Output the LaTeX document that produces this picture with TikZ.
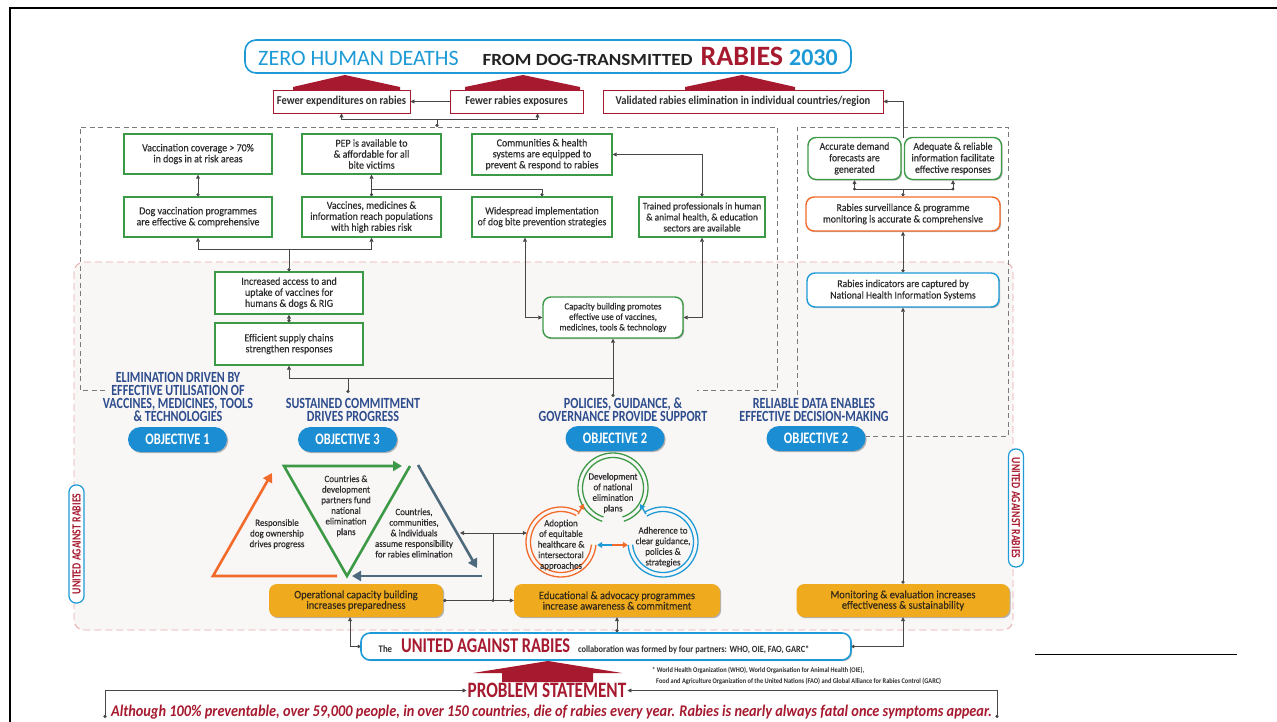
\documentclass[tikz,border=0pt]{standalone}
\usepackage{fontspec}
\setmainfont{Carlito}
\newfontfamily\cnd{Carlito}[FakeStretch=0.78]
\newfontfamily\mcnd{Carlito}[FakeStretch=0.88]
\newfontfamily\gfnt{Carlito}[FakeStretch=0.93,FakeBold=0.35]
\newfontfamily\wfnt{Carlito}[FakeStretch=1.12]
\usetikzlibrary{arrows.meta,shadows,calc}
\definecolor{crim}{HTML}{A6192E}
\definecolor{tblue}{HTML}{1E9BD7}
\definecolor{pillblue}{HTML}{1A8DD3}
\definecolor{gboxc}{HTML}{3C9A47}
\definecolor{oboxc}{HTML}{F26B2A}
\definecolor{amber}{HTML}{EFAB1D}
\definecolor{navy}{HTML}{2D4D8D}
\definecolor{pinkd}{HTML}{E9AAAA}
\definecolor{bgpink}{HTML}{F9F6F6}
\definecolor{grayd}{HTML}{7A7A7A}
\definecolor{connc}{HTML}{474747}
\definecolor{slate}{HTML}{4E6B7E}
\definecolor{txt}{HTML}{2E2E2E}
\definecolor{ytxt}{HTML}{33291A}
\definecolor{dark}{HTML}{222222}
\tikzset{
  myT/.tip={Triangle[length=4pt,width=4pt]},
  myC/.tip={Circle[length=3.2pt]},
  shd/.style={drop shadow={shadow xshift=1.2pt,shadow yshift=-1.2pt,opacity=0.28,fill=black}},
  conn/.style={draw=connc,line width=0.75pt},
  redbox/.style={draw=crim,line width=0.9pt,fill=white,shd,inner sep=0pt,text=txt,font=\mcnd\bfseries\fontsize{12}{12}\selectfont},
  gbox/.style={draw=gboxc,line width=1.4pt,fill=white,shd,inner sep=0pt,align=center,text=txt,font=\gfnt\fontsize{10.7}{11}\selectfont},
  rbox/.style={gbox,rounded corners=8pt,font=\gfnt\fontsize{10.5}{11.5}\selectfont},
  ybox/.style={fill=amber,rounded corners=8pt,shd,inner sep=0pt,align=center,text=ytxt,font=\gfnt\fontsize{11.2}{10.5}\selectfont},
  pill/.style={fill=pillblue,rounded corners=12.5pt,shd,inner sep=0pt,minimum width=99pt,minimum height=25pt,text=white,font=\cnd\bfseries\fontsize{16}{16}\selectfont},
  head/.style={align=center,text=navy,inner sep=0pt,font=\cnd\bfseries\fontsize{15.5}{13}\selectfont},
  ttext/.style={align=center,text=txt,inner sep=0pt,font=\gfnt\fontsize{9.6}{10.6}\selectfont},
  ringline/.style={line width=1.3pt},
  bigarr/.style={line width=2.6pt,line join=miter,-{Triangle[length=9pt,width=10pt]}},
  smallarr/.style={line width=1.4pt,-{Triangle[length=5pt,width=6pt]}},
  uarlab/.style={draw=tblue,line width=1.2pt,rounded corners=7pt,fill=white,minimum width=118pt,minimum height=15pt,inner sep=0pt,text=crim,font=\cnd\bfseries\fontsize{12.5}{12.5}\selectfont},
}
\begin{document}
\begin{tikzpicture}[x=1pt,y=-1pt]
\useasboundingbox (0,0) rectangle (1277,722);
\fill[white] (0,0) rectangle (1277,722);
% regions
\draw[pinkd,line width=0.9pt,dash pattern=on 7pt off 4pt,fill=bgpink,rounded corners=10pt] (74,262) rectangle (1013,630);
\draw[grayd,line width=0.9pt,dash pattern=on 5pt off 3.5pt] (105,390) -- (80,390) -- (80,127) -- (777,127) -- (777,390) -- (697,390);
\draw[grayd,line width=0.9pt,dash pattern=on 5pt off 3.5pt] (797,395) -- (797,127) -- (1008,127) -- (1008,436) -- (866,436);
% frame
\draw[black,line width=1.6pt] (10,722) -- (10,8) -- (1277,8);
\draw[black,line width=0.8pt] (1035,654) -- (1237,654);

% title
\node[draw=tblue,line width=1.6pt,rounded corners=11pt,minimum width=606pt,minimum height=33pt,inner sep=0pt,fill=white] (title) at (548,56.5) {{\fontsize{22}{22}\selectfont\color{tblue}ZERO HUMAN DEATHS}\hspace{24pt}{\wfnt\bfseries\fontsize{17}{17}\selectfont\color{dark}FROM DOG-TRANSMITTED}\hspace{8pt}{\bfseries\fontsize{28}{28}\selectfont\color{crim}RABIES}\hspace{6pt}{\bfseries\fontsize{24}{24}\selectfont\color{tblue}2030}};

% chevrons (block arrows behind the outcome boxes)
\fill[crim] (293,93) -- (293,87) -- (345,75) -- (400,87) -- (400,93) -- cycle;
\fill[crim] (465,93) -- (465,87) -- (523,75) -- (580,87) -- (580,93) -- cycle;
\fill[crim] (685,93) -- (685,87) -- (742,75) -- (795,87) -- (795,93) -- cycle;

% top outcome boxes
\node[redbox,minimum width=137pt,minimum height=23pt] (exp) at (341.5,101.5) {Fewer expenditures on rabies};
\node[redbox,minimum width=133pt,minimum height=23pt] (expo) at (516.5,101.5) {Fewer rabies exposures};
\node[redbox,minimum width=280pt,minimum height=23pt] (valid) at (743,101.5) {Validated rabies elimination in individual countries/region};

% left green boxes
\node[gbox,minimum width=148pt,minimum height=40pt] (vcov) at (198,154) {Vaccination coverage > 70\%\\in dogs in at risk areas};
\node[gbox,minimum width=139pt,minimum height=40pt] (pep) at (371.5,154) {PEP is available to\\\& affordable for all\\bite victims};
\node[gbox,minimum width=140pt,minimum height=41pt] (comm) at (542,154.5) {Communities \& health\\systems are equipped to\\prevent \& respond to rabies};
\node[gbox,minimum width=148pt,minimum height=40pt] (dogv) at (198,217) {Dog vaccination programmes\\are effective \& comprehensive};
\node[gbox,minimum width=139pt,minimum height=40pt] (vmed) at (371.5,217) {Vaccines, medicines \&\\information reach populations\\with high rabies risk};
\node[gbox,font=\gfnt\fontsize{10.5}{11}\selectfont,minimum width=140pt,minimum height=40pt] (wide) at (542,217) {Widespread implementation\\of dog bite prevention strategies};
\node[gbox,font=\gfnt\fontsize{10.1}{11}\selectfont,minimum width=126pt,minimum height=40pt] (train) at (702,217) {Trained professionals in human\\\& animal health, \& education\\sectors are available};
\node[gbox,minimum width=148pt,minimum height=42pt] (incr) at (289,293) {Increased access to and\\uptake of vaccines for\\humans \& dogs \& RIG};
\node[gbox,minimum width=148pt,minimum height=42pt] (effi) at (289,344) {Efficient supply chains\\strengthen responses};
\node[rbox,font=\gfnt\fontsize{9.4}{10.5}\selectfont,minimum width=140pt,minimum height=41pt] (cap) at (613,317.5) {Capacity building promotes\\effective use of vaccines,\\medicines, tools \& technology};

% right boxes
\node[rbox,minimum width=93pt,minimum height=42pt] (acc) at (854.5,158.5) {Accurate demand\\forecasts are\\generated};
\node[rbox,minimum width=97pt,minimum height=42pt] (adeq) at (953,158.5) {Adequate \& reliable\\information facilitate\\effective responses};
\node[rbox,draw=oboxc,minimum width=194pt,minimum height=34pt] (surv) at (903,214) {Rabies surveillance \& programme\\monitoring is accurate \& comprehensive};
\node[rbox,draw=tblue,minimum width=192pt,minimum height=34pt] (ind) at (903,290) {Rabies indicators are captured by\\National Health Information Systems};

% headings and objectives
\node[head] (h1) at (178,397) {ELIMINATION DRIVEN BY\\EFFECTIVE UTILISATION OF\\VACCINES, MEDICINES, TOOLS\\\& TECHNOLOGIES};
\node[head] (h3) at (353,410) {SUSTAINED COMMITMENT\\DRIVES PROGRESS};
\node[head] (h2) at (623,410) {POLICIES, GUIDANCE, \&\\GOVERNANCE PROVIDE SUPPORT};
\node[head] (h4) at (814,410) {RELIABLE DATA ENABLES\\EFFECTIVE DECISION-MAKING};
\node[pill] (o1) at (177.5,439.5) {OBJECTIVE 1};
\node[pill] (o3) at (347.5,439.5) {OBJECTIVE 3};
\node[pill] (o2a) at (615,438.5) {OBJECTIVE 2};
\node[pill] (o2b) at (816,438.5) {OBJECTIVE 2};

% triangles
\draw[oboxc,bigarr] (337,576) -- (213,576) -- (272,473);
\draw[gboxc,bigarr] (410,466) -- (347,576) -- (284,466) -- (402,466);
\draw[slate,bigarr] (418,465) -- (477,568);
\draw[slate,bigarr] (482,576) -- (352,576);
\node[ttext] (t1) at (277,534) {Responsible\\dog ownership\\drives progress};
\node[ttext] (t2) at (346,506) {Countries \&\\development\\partners fund\\national\\elimination\\plans};
\node[ttext] (t3) at (414,533) {Countries,\\communities,\\\& individuals\\assume responsibility\\for rabies elimination};
\coordinate (tri3) at (460,533);

% circles
\node[circle,minimum size=70pt,inner sep=0pt] (cg) at (613,488) {};
\node[circle,minimum size=70pt,inner sep=0pt] (co) at (561,542) {};
\node[circle,minimum size=70pt,inner sep=0pt] (cb) at (663,542) {};
\foreach \r in {35,30.5} {
  \draw[gboxc,ringline] (cg.center) ++(108:\r) arc[start angle=108,end angle=432,radius=\r];
  \draw[oboxc,ringline] (co.center) ++(5:\r) arc[start angle=5,end angle=300,radius=\r];
  \draw[tblue,ringline] (cb.center) ++(-122:\r) arc[start angle=-122,end angle=175,radius=\r];
}
\draw[oboxc,smallarr] ($(co.center)+(17,-28)$) -- ($(co.center)+(23,-38)$);
\draw[tblue,smallarr] ($(cb.center)+(-17,-28)$) -- ($(cb.center)+(-23,-38)$);
\draw[tblue,smallarr] ($(co.east)!0.5!(cb.west)+(0,3)$) -- ($(co.east)+(1,3)$);
\draw[oboxc,smallarr] ($(co.east)!0.5!(cb.west)+(0,3)$) -- ($(cb.west)+(0,3)$);
\node[ttext] (cgt) at (613,493) {Development\\of national\\elimination\\plans};
\node[ttext] (cot) at (561,545) {Adoption\\of equitable\\healthcare \&\\intersectoral\\approaches};
\node[ttext] (cbt) at (663,547) {Adherence to\\clear guidance,\\policies \&\\strategies};

% yellow boxes
\node[ybox,minimum width=174pt,minimum height=33pt] (op) at (356,600.5) {Operational capacity building\\increases preparedness};
\node[ybox,minimum width=206pt,minimum height=33pt] (edu) at (617,600.5) {Educational \& advocacy programmes\\increase awareness \& commitment};
\node[ybox,minimum width=213pt,minimum height=33pt] (mon) at (903,600.5) {Monitoring \& evaluation increases\\effectiveness \& sustainability};

% side labels
\node[uarlab,rotate=90] (uarl) at (76.5,544) {UNITED AGAINST RABIES};
\node[uarlab,rotate=-90] (uarr) at (1016,508) {UNITED AGAINST RABIES};

% UAR box
\node[draw=tblue,line width=1.6pt,rounded corners=9pt,fill=white,minimum width=490pt,minimum height=27pt,inner sep=0pt,shd] (uar) at (606,646.5) {{\mcnd\bfseries\fontsize{10}{10}\selectfont\color{txt}The}\hspace{9pt}{\cnd\bfseries\fontsize{21}{21}\selectfont\color{crim}UNITED AGAINST RABIES}\hspace{8pt}{\mcnd\bfseries\fontsize{9.5}{9.5}\selectfont\color{txt}collaboration was formed by four partners: WHO, OIE, FAO, GARC*}\rule{24pt}{0pt}};

% footnote
\node[anchor=base west,inner sep=0pt,text=txt,font=\mcnd\bfseries\fontsize{7.2}{7.2}\selectfont] (fn1) at (652,672) {* World Health Organization (WHO), World Organisation for Animal Health (OIE),};
\node[anchor=base west,inner sep=0pt,text=txt,font=\mcnd\bfseries\fontsize{7.2}{7.2}\selectfont] (fn2) at (656,683) {Food and Agriculture Organization of the United Nations (FAO) and Global Alliance for Rabies Control (GARC)};

% problem statement
\fill[crim] (473,673) -- (548,661) -- (622,673) -- (593,673) -- (593,682) -- (502,682) -- (502,673) -- cycle;
\node[inner sep=1pt,text=crim,font=\cnd\bfseries\fontsize{22}{22}\selectfont] (prob) at (547,690.5) {PROBLEM STATEMENT};
\node[inner sep=0pt,text=crim,font=\mcnd\bfseries\itshape\fontsize{16.3}{16.3}\selectfont] (stmt) at (551.5,712) {Although 100\% preventable, over 59,000 people, in over 150 countries, die of rabies every year. Rabies is nearly always fatal once symptoms appear.};

% ---------- connectors ----------
\draw[conn,-myT] (expo.west) -- (exp.east);
\coordinate (jtop) at (437,127);
\coordinate (jtopb) at (437,119);
\draw[conn,myC-] (jtop) -- (jtopb);
\draw[conn,-myT] (jtopb) -| (exp.south);
\draw[conn,-myT] (jtopb) -| ([xshift=21pt]expo.south);
\coordinate (jv) at (903,138);
\draw[conn,-myT] (jv) |- (valid.east);
\coordinate (jr) at (903,189);
\draw[conn,myC-] (surv.north) -- (jr);
\draw[conn,-myT] (jr) -| (acc.south);
\draw[conn,-myT] (jr) -| (adeq.south);
\fill[connc] (acc.south |- jr) circle (1.6);
\fill[connc] (adeq.south |- jr) circle (1.6);
\draw[conn,myC-myT] (ind.north) -- (surv.south);
\draw[conn,myC-myT] (mon.north) -- (ind.south);

\draw[conn,myC-myT] (dogv.north) -- (vcov.south);
\draw[conn,myC-myT] (vmed.north) -- (pep.south);
\coordinate (jp) at (371.5,189);
\draw[conn,myC-] (wide.north) |- (jp);
\draw[conn,myC-myT] (train.north) |- (comm.east);
\coordinate (ji) at (289,249);
\draw[conn,myC-] (incr.north) -- (ji);
\draw[conn,-myT] (ji) -| (dogv.south);
\draw[conn,-myT] (ji) -| (vmed.south);
\draw[conn,myC-myT] (effi.north) -- (incr.south);
\coordinate (s3) at (348,393);
\coordinate (js) at (348,378);
\coordinate (s2) at (613,397);
\draw[conn,myC-] (s3) -- (js);
\draw[conn,-myT] (js) -| (effi.south);
\draw[conn] (js) -- (js -| cap.south);
\draw[conn,myC-myT] (s2) -- (cap.south);
\draw[conn,myT-myT] ([xshift=-17pt]wide.south) |- (cap.west);
\draw[conn,myT-myT] (train.south) |- (cap.east);

\coordinate (jb) at (493,600.5);
\coordinate (jc) at (493,533);
\draw[conn,myC-myT] (op.east) -- (edu.west);
\fill[connc] (jb) circle (1.6);
\draw[conn] (jb) -- (jc);
\draw[conn,-myT] (jc) -- (tri3);
\draw[conn,-myT] (jc) -- ($(co.west)+(1,-9)$);
\draw[conn,myC-myT] (uar.west) -| ([xshift=-6pt]op.south);
\draw[conn,myC-myT] (uar.north -| edu.south) -- (edu.south);
\draw[conn,myC-myT] (uar.east) -| (mon.south);
\coordinate (pl) at (105,718);
\coordinate (pr) at (997,718);
\draw[conn,myC-myT] (pl) |- (prob.west);
\draw[conn,myC-myT] (pr) |- (prob.east);
\end{tikzpicture}
\end{document}
